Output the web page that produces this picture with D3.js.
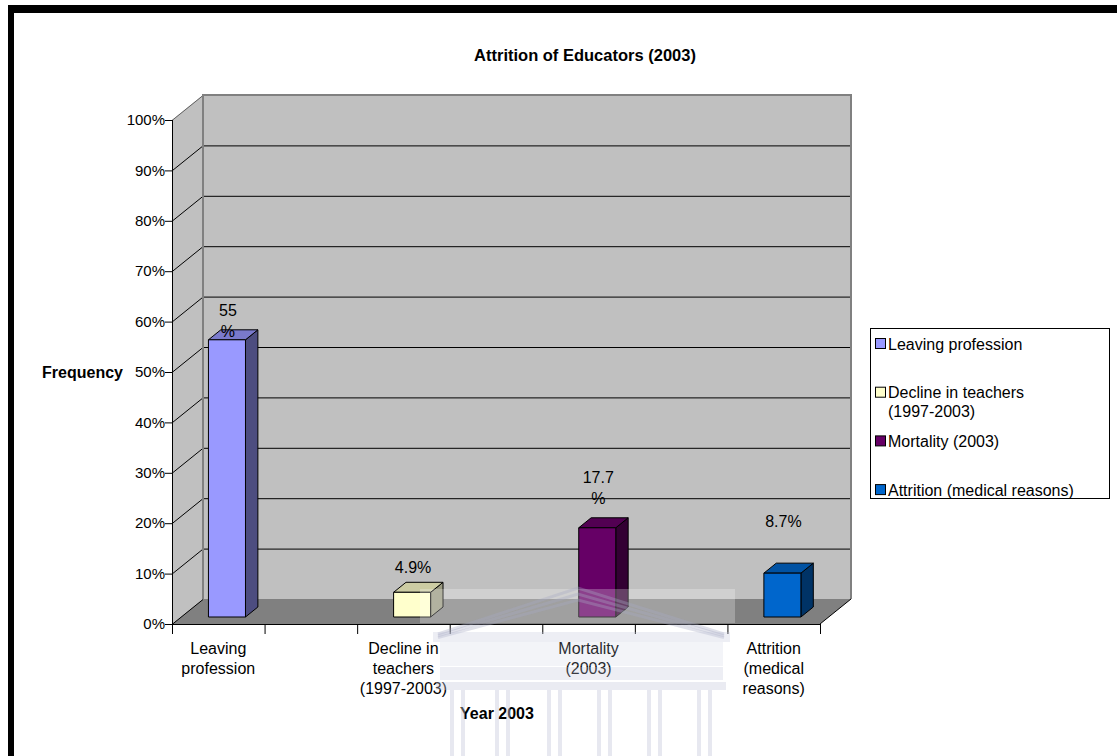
<!DOCTYPE html>
<html>
<head>
<meta charset="utf-8">
<script src="https://cdn.jsdelivr.net/npm/d3@7"></script>
<style>
  html, body { margin: 0; padding: 0; background: #ffffff; }
  svg { display: block; }
  text { font-family: "Liberation Sans", Arial, sans-serif; fill: #000; }
</style>
</head>
<body>
<svg id="chart" width="1117" height="756"></svg>
<script>
// ---- data ----
const categories = ["Leaving profession", "Decline in teachers (1997-2003)", "Mortality (2003)", "Attrition (medical reasons)"];
const axisLabelLines = [["Leaving", "profession"], ["Decline in", "teachers", "(1997-2003)"], ["Mortality", "(2003)"], ["Attrition", "(medical", "reasons)"]];
const legendLines = [["Leaving profession"], ["Decline in teachers", "(1997-2003)"], ["Mortality (2003)"], ["Attrition (medical reasons)"]];
const values = [55, 4.9, 17.7, 8.7];
const labelWrapped = [true, false, true, false];
const yTicks = [0, 10, 20, 30, 40, 50, 60, 70, 80, 90, 100];
const yTickLabels = yTicks.map(t => t + "%");

// ---- styles ----
const frontFill = ["#9999ff", "#ffffcc", "#660066", "#0066cc"];
const topFill   = ["#7a7acc", "#cccca3", "#520052", "#0052a3"];
const sideFill  = ["#4d4d80", "#999980", "#330033", "#003366"];
const labelLift = [29, 25, 50, 52];
const FS = 16;

const svg = d3.select("#chart");
const W = 1117, H = 756;

// frame lines (top and left)
svg.append("rect").attr("x", 8).attr("y", 5).attr("width", W - 8).attr("height", 8).attr("fill", "#000");
svg.append("rect").attr("x", 8).attr("y", 5).attr("width", 6).attr("height", H - 5).attr("fill", "#000");

// ---- geometry ----
const X0 = 172, X1 = 820, Y0 = 624, Y100 = 120;
const D = { dx: 31, dy: -25 };           // wall depth offset
const y = d3.scaleLinear().domain([0, 100]).range([Y0, Y100]);
const slots = d3.range(categories.length * 2 - 1);
const x = d3.scaleBand().domain(slots).range([X0, X1]).padding(0);
const slotOf = i => i * 2;
const f0 = 0.28, fd = 0.4;               // bar front depth / bar thickness (fractions of D)
const barW = x.bandwidth() * 0.4;

const line = d3.line();

// back wall
svg.append("rect")
  .attr("x", X0 + D.dx).attr("y", Y100 + D.dy)
  .attr("width", X1 - X0).attr("height", Y0 - Y100)
  .attr("fill", "#c0c0c0");
// side wall
svg.append("path")
  .attr("d", line([[X0, Y100], [X0 + D.dx, Y100 + D.dy], [X0 + D.dx, Y0 + D.dy], [X0, Y0]]) + "Z")
  .attr("fill", "#c0c0c0");
// floor
svg.append("path")
  .attr("d", line([[X0, Y0], [X1, Y0], [X1 + D.dx, Y0 + D.dy], [X0 + D.dx, Y0 + D.dy]]) + "Z")
  .attr("fill", "#808080");

// gridlines on back wall and side wall
const grid = svg.append("g");
yTicks.forEach(t => {
  if (t > 0 && t < 100) {
    grid.append("line")
      .attr("x1", X0 + D.dx).attr("x2", X1 + D.dx)
      .attr("y1", y(t) + D.dy + 0.5).attr("y2", y(t) + D.dy + 0.5)
      .attr("stroke", "#000").attr("stroke-width", 1);
  }
  grid.append("line")
    .attr("x1", X0).attr("y1", y(t) + 0.5)
    .attr("x2", X0 + D.dx).attr("y2", y(t) + D.dy + 0.5)
    .attr("stroke", t === 100 ? "#606060" : "#000").attr("stroke-width", 1);
});
// back wall outline (top, left, right)
svg.append("path")
  .attr("d", line([[X0 + D.dx, Y0 + D.dy], [X0 + D.dx, Y100 + D.dy], [X1 + D.dx, Y100 + D.dy], [X1 + D.dx, Y0 + D.dy]]))
  .attr("fill", "none").attr("stroke", "#808080").attr("stroke-width", 2);
// floor right edge
svg.append("line")
  .attr("x1", X1).attr("y1", Y0).attr("x2", X1 + D.dx).attr("y2", Y0 + D.dy)
  .attr("stroke", "#000").attr("stroke-width", 1);

// ---- bars ----
const bars = svg.append("g");
values.forEach((v, i) => {
  const xl = x(slotOf(i)) + (x.bandwidth() - barW) / 2 + D.dx * f0;
  const xr = xl + barW;
  const yb = Y0 + D.dy * f0;
  const yt = y(v) + D.dy * f0;
  const ox = D.dx * fd, oy = D.dy * fd;
  const g = bars.append("g").attr("stroke", "#000").attr("stroke-width", 1).attr("stroke-linejoin", "round");
  g.append("path").attr("d", line([[xr, yt], [xr + ox, yt + oy], [xr + ox, yb + oy], [xr, yb]]) + "Z").attr("fill", sideFill[i]);
  g.append("path").attr("d", line([[xl, yt], [xl + ox, yt + oy], [xr + ox, yt + oy], [xr, yt]]) + "Z").attr("fill", topFill[i]);
  g.append("rect").attr("x", xl).attr("y", yt).attr("width", barW).attr("height", yb - yt).attr("fill", frontFill[i]);

  // value label
  const txt = v + "%";
  const parts = labelWrapped[i] ? [String(v), "%"] : [txt];
  const lbl = bars.append("text")
    .attr("x", (xl + xr) / 2 + 1).attr("y", yt - labelLift[i])
    .attr("text-anchor", "middle").attr("font-size", FS);
  parts.forEach((p, k) => {
    lbl.append("tspan").attr("x", (xl + xr) / 2 + 1).attr("dy", k === 0 ? "0.35em" : 21).text(p);
  });
});

// ---- axes ----
// left axis line + ticks
svg.append("line").attr("x1", X0 + 0.5).attr("x2", X0 + 0.5).attr("y1", Y100).attr("y2", Y0)
  .attr("stroke", "#000");
const yAxisG = svg.append("g");
yTicks.forEach((t, k) => {
  yAxisG.append("line").attr("x1", X0 - 7).attr("x2", X0).attr("y1", y(t) + 0.5).attr("y2", y(t) + 0.5).attr("stroke", "#000");
  yAxisG.append("text").attr("x", X0 - 7).attr("y", y(t)).attr("dy", "0.35em")
    .attr("text-anchor", "end").attr("font-size", FS - 1).text(yTickLabels[k]);
});
// bottom axis line + ticks
svg.append("line").attr("x1", X0).attr("x2", X1).attr("y1", Y0 + 0.5).attr("y2", Y0 + 0.5).attr("stroke", "#000");
const xAxisG = svg.append("g");
slots.concat([slots.length]).forEach(s => {
  const xx = s < slots.length ? x(s) : X1;
  xAxisG.append("line").attr("x1", xx + 0.5).attr("x2", xx + 0.5).attr("y1", Y0).attr("y2", Y0 + 10).attr("stroke", "#000");
});
categories.forEach((c, i) => {
  const cx = x(slotOf(i)) + x.bandwidth() / 2;
  const t = xAxisG.append("text").attr("text-anchor", "middle").attr("font-size", FS);
  axisLabelLines[i].forEach((ln, k) => {
    t.append("tspan").attr("x", cx).attr("y", 648 + k * 20).attr("dy", "0.35em").text(ln);
  });
});

// ---- titles ----
svg.append("text").attr("x", 585).attr("y", 55).attr("dy", "0.35em").attr("text-anchor", "middle")
  .attr("font-size", FS + 0.5).attr("font-weight", "bold").text("Attrition of Educators (2003)");
svg.append("text").attr("x", 123).attr("y", 372).attr("dy", "0.35em").attr("text-anchor", "end")
  .attr("font-size", FS).attr("font-weight", "bold").text("Frequency");
svg.append("text").attr("x", 497).attr("y", 713).attr("dy", "0.35em").attr("text-anchor", "middle")
  .attr("font-size", FS).attr("font-weight", "bold").text("Year 2003");

// ---- legend ----
const legend = svg.append("g");
legend.append("rect").attr("x", 870.5).attr("y", 328.5).attr("width", 239).attr("height", 170)
  .attr("fill", "#fff").attr("stroke", "#000");
const legendTop = 344, legendStep = 48.7;
categories.forEach((c, i) => {
  const cy = legendTop + i * legendStep;
  legend.append("rect").attr("x", 875.5).attr("y", cy - 5.5).attr("width", 10).attr("height", 10)
    .attr("fill", frontFill[i]).attr("stroke", "#000");
  const t = legend.append("text").attr("font-size", FS);
  legendLines[i].forEach((ln, k) => {
    t.append("tspan").attr("x", 888).attr("y", cy + k * 19).attr("dy", "0.35em").text(ln);
  });
});

// ---- faint building emblem in the background ----
const emb = svg.append("g").attr("pointer-events", "none");
emb.append("rect").attr("x", 420).attr("y", 589).attr("width", 315).attr("height", 34)
  .attr("fill", "#ffffff").attr("opacity", 0.25);
const embCol = "#c4c6da";
// pediment stripes
[0, 6, 12].forEach(o => {
  emb.append("path")
    .attr("d", line([[438, 634 + o * 0.3], [578, 588 + o], [724, 634 + o * 0.3]]))
    .attr("fill", "none").attr("stroke", "#a6a8c4").attr("stroke-width", 3).attr("opacity", 0.35);
});
emb.append("rect").attr("x", 433).attr("y", 632).attr("width", 297).attr("height", 10).attr("fill", embCol).attr("opacity", 0.3);
emb.append("rect").attr("x", 440).attr("y", 642).attr("width", 283).attr("height", 24).attr("fill", embCol).attr("opacity", 0.2);
emb.append("rect").attr("x", 440).attr("y", 667).attr("width", 283).attr("height", 13).attr("fill", embCol).attr("opacity", 0.3);
emb.append("rect").attr("x", 436).attr("y", 682).attr("width", 290).attr("height", 8).attr("fill", embCol).attr("opacity", 0.35);
[450, 495, 547, 597, 647, 697].forEach(cx => {
  emb.append("rect").attr("x", cx).attr("y", 690).attr("width", 4).attr("height", 66).attr("fill", embCol).attr("opacity", 0.4);
  emb.append("rect").attr("x", cx + 11).attr("y", 690).attr("width", 4).attr("height", 66).attr("fill", embCol).attr("opacity", 0.4);
});
</script>
</body>
</html>
